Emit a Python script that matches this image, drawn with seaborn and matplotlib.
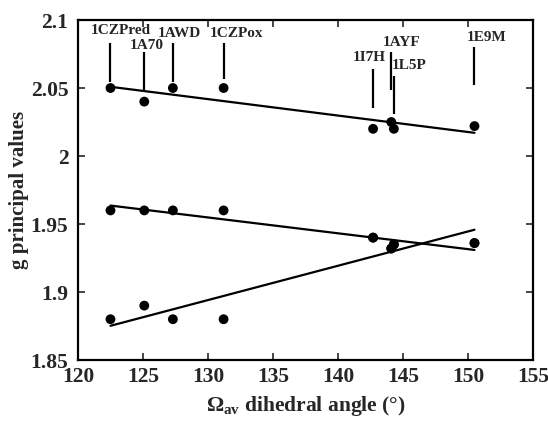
import numpy as np
import pandas as pd
import matplotlib
matplotlib.use('Agg')
import matplotlib.pyplot as plt
from matplotlib.ticker import FuncFormatter
import seaborn as sns

# data
proteins = ['1CZPred', '1A70', '1AWD', '1CZPox', '1I7H', '1AYF', '1L5P', '1E9M']
omega_av = [122.5, 125.1, 127.3, 131.2, 142.7, 144.1, 144.3, 150.5]
g1 = [2.05, 2.04, 2.05, 2.05, 2.02, 2.025, 2.02, 2.022]
g2 = [1.96, 1.96, 1.96, 1.96, 1.94, 1.932, 1.935, 1.936]
g3 = [1.88, 1.89, 1.88, 1.88, 1.94, 1.932, 1.935, 1.936]

# label placement (text x, text y, stick bottom, stick top)
label_pos = {
    '1CZPred': (123.3, 2.0926, 2.0544, 2.0831),
    '1A70':    (125.3, 2.0816, 2.0485, 2.0765),
    '1AWD':    (127.8, 2.0904, 2.0544, 2.0831),
    '1CZPox':  (132.2, 2.0904, 2.0566, 2.0831),
    '1I7H':    (142.4, 2.0728, 2.0353, 2.0640),
    '1AYF':    (144.9, 2.0835, 2.0485, 2.0765),
    '1L5P':    (145.5, 2.0662, 2.0309, 2.0588),
    '1E9M':    (151.4, 2.0875, 2.0522, 2.0801),
}

df = pd.DataFrame({'omega': omega_av, 'g1': g1, 'g2': g2, 'g3': g3})

sns.set_style('ticks')
plt.rcParams['font.family'] = ['Liberation Serif', 'DejaVu Serif']
plt.rcParams['font.weight'] = 'bold'
plt.rcParams['mathtext.fontset'] = 'custom'
plt.rcParams['mathtext.rm'] = 'Liberation Serif:bold'
plt.rcParams['mathtext.it'] = 'Liberation Serif:bold'

fig = plt.figure(figsize=(5.48, 4.24), dpi=100)
ax = fig.add_axes([0.1423, 0.1509, 0.8303, 0.8019])

for col in ['g1', 'g2', 'g3']:
    sns.regplot(data=df, x='omega', y=col, ax=ax, ci=None, color='black',
                scatter_kws={'s': 50, 'edgecolor': 'none', 'alpha': 1},
                line_kws={'linewidth': 1.6})

for name, x in zip(proteins, omega_av):
    tx, ty, y0, y1 = label_pos[name]
    ax.vlines(x, y0, y1, color='black', linewidth=1.6)
    ax.text(tx, ty, name, ha='center', va='center', fontsize=11,
            fontweight='bold')

ax.set_xlim(120, 155)
ax.set_ylim(1.85, 2.1)
ax.set_xticks(np.arange(120, 156, 5))
ax.set_yticks([1.85, 1.9, 1.95, 2.0, 2.05, 2.1])
ax.yaxis.set_major_formatter(FuncFormatter(lambda v, p: '%g' % round(v, 3)))
ax.tick_params(direction='in', length=5, width=1.2, top=True, right=True,
               labelsize=15.5)
ax.tick_params(axis='x', pad=5)
ax.tick_params(axis='y', pad=7)
for lab in ax.get_xticklabels() + ax.get_yticklabels():
    lab.set_fontweight('bold')
for sp in ax.spines.values():
    sp.set_linewidth(1.6)
    sp.set_color('black')

ax.set_xlabel(r'$\Omega_{\rm av}$ dihedral angle (°)', fontsize=15.5,
              fontweight='bold', labelpad=5)
ax.set_ylabel('g principal values', fontsize=15, fontweight='bold',
              labelpad=1)

fig.savefig('out.png', dpi=100)
